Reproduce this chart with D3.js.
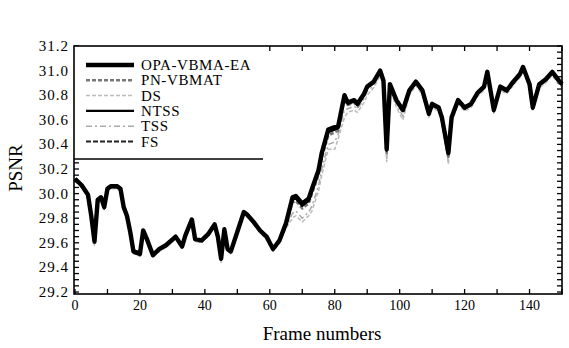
<!DOCTYPE html>
<html>
<head>
<meta charset="utf-8">
<script src="https://cdn.jsdelivr.net/npm/d3@7"></script>
<style>
  body { margin: 0; background: #fff; }
  svg text { font-family: "Liberation Serif", "DejaVu Serif", serif; fill: #000; }
</style>
</head>
<body>
<div id="chart"></div>
<script>
// frame numbers sampled from the curves
var frames = [0,2,4,5,6,7,8,9,10,11,13,14,15,16,17,18,20,21,22,24,26,28,31,33,34,36,37,39,41,43,44,45,46,47,48,50,52,53,55,57,59,61,63,65,67,68,70,72,73,75,76,78,80,81,83,84,86,87,89,90,92,94,95,96,97,99,101,103,105,107,109,110,112,113,115,116,118,120,122,124,126,127,129,131,133,135,137,138,140,141,143,145,147,149,150];

var opaValues = [30.12,30.07,29.99,29.82,29.61,29.95,29.97,29.89,30.04,30.06,
  30.06,30.04,29.89,29.82,29.69,29.53,29.51,29.70,29.64,29.50,
  29.55,29.58,29.65,29.57,29.66,29.79,29.63,29.62,29.67,29.75,
  29.65,29.47,29.71,29.55,29.53,29.69,29.85,29.83,29.77,29.70,
  29.65,29.55,29.62,29.76,29.97,29.98,29.92,29.96,30.04,30.19,
  30.33,30.52,30.54,30.54,30.80,30.74,30.76,30.73,30.81,30.87,
  30.91,31.00,30.92,30.36,30.89,30.76,30.68,30.84,30.91,30.84,
  30.65,30.73,30.70,30.62,30.33,30.62,30.76,30.70,30.73,30.82,
  30.87,30.99,30.68,30.87,30.84,30.91,30.97,31.03,30.89,30.70,
  30.89,30.93,30.99,30.92,30.89];

var pnValues = [30.11,30.06,29.98,29.81,29.60,29.93,29.96,29.88,30.03,30.05,
  30.05,30.03,29.88,29.81,29.68,29.52,29.50,29.69,29.63,29.49,
  29.54,29.57,29.64,29.56,29.65,29.78,29.62,29.61,29.66,29.74,
  29.64,29.46,29.70,29.54,29.52,29.68,29.84,29.82,29.76,29.69,
  29.64,29.54,29.61,29.74,29.93,29.94,29.88,29.92,30.00,30.15,
  30.29,30.47,30.50,30.51,30.77,30.72,30.74,30.71,30.80,30.86,
  30.90,30.99,30.91,30.33,30.88,30.75,30.66,30.83,30.90,30.83,
  30.64,30.72,30.69,30.61,30.30,30.61,30.75,30.69,30.72,30.81,
  30.86,30.98,30.67,30.86,30.83,30.90,30.96,31.02,30.88,30.69,
  30.88,30.92,30.98,30.91,30.88];

var dsValues = [30.10,30.05,29.97,29.80,29.58,29.92,29.95,29.87,30.02,30.04,
  30.04,30.02,29.87,29.80,29.67,29.51,29.49,29.68,29.62,29.48,
  29.53,29.56,29.63,29.55,29.64,29.77,29.61,29.60,29.65,29.73,
  29.63,29.44,29.69,29.53,29.51,29.67,29.83,29.81,29.75,29.68,
  29.63,29.53,29.60,29.72,29.80,29.82,29.77,29.82,29.86,30.02,
  30.15,30.36,30.36,30.44,30.62,30.66,30.68,30.66,30.74,30.80,
  30.86,30.96,30.88,30.26,30.85,30.70,30.60,30.80,30.88,30.80,
  30.62,30.70,30.67,30.58,30.24,30.58,30.73,30.67,30.70,30.79,
  30.84,30.96,30.65,30.84,30.81,30.88,30.94,31.00,30.86,30.67,
  30.86,30.90,30.96,30.89,30.86];

var ntssValues = [30.12,30.07,29.99,29.83,29.62,29.95,29.97,29.89,30.04,30.06,
  30.06,30.04,29.90,29.82,29.70,29.54,29.52,29.70,29.64,29.51,
  29.55,29.58,29.65,29.57,29.66,29.79,29.63,29.62,29.67,29.75,
  29.65,29.48,29.71,29.55,29.53,29.69,29.85,29.83,29.77,29.70,
  29.65,29.56,29.62,29.75,29.95,29.96,29.90,29.94,30.02,30.17,
  30.31,30.50,30.52,30.53,30.79,30.73,30.75,30.72,30.80,30.86,
  30.90,30.99,30.91,30.35,30.88,30.75,30.67,30.83,30.90,30.83,
  30.64,30.72,30.69,30.61,30.32,30.61,30.75,30.69,30.72,30.81,
  30.86,30.98,30.67,30.86,30.83,30.90,30.96,31.02,30.88,30.69,
  30.88,30.92,30.98,30.91,30.88];

var tssValues = [30.11,30.06,29.98,29.81,29.59,29.93,29.96,29.88,30.03,30.05,
  30.05,30.03,29.88,29.81,29.68,29.52,29.50,29.69,29.63,29.49,
  29.54,29.57,29.64,29.56,29.65,29.78,29.62,29.61,29.66,29.74,
  29.64,29.45,29.70,29.54,29.52,29.68,29.84,29.82,29.76,29.69,
  29.64,29.54,29.61,29.73,29.84,29.86,29.80,29.85,29.90,30.06,
  30.20,30.40,30.42,30.48,30.68,30.69,30.71,30.69,30.77,30.83,
  30.88,30.97,30.89,30.28,30.86,30.72,30.63,30.81,30.89,30.81,
  30.63,30.71,30.68,30.59,30.26,30.59,30.74,30.68,30.71,30.80,
  30.85,30.97,30.66,30.85,30.82,30.89,30.95,31.01,30.87,30.68,
  30.87,30.91,30.97,30.90,30.87];

var fsValues = [30.12,30.07,29.99,29.82,29.61,29.95,29.97,29.89,30.04,30.06,
  30.06,30.04,29.89,29.82,29.69,29.53,29.51,29.70,29.64,29.50,
  29.55,29.58,29.65,29.57,29.66,29.79,29.63,29.62,29.67,29.75,
  29.65,29.47,29.71,29.55,29.53,29.69,29.85,29.83,29.77,29.70,
  29.65,29.55,29.62,29.76,29.97,29.98,29.92,29.96,30.04,30.19,
  30.33,30.52,30.54,30.54,30.80,30.74,30.76,30.73,30.81,30.87,
  30.91,31.00,30.92,30.36,30.89,30.76,30.68,30.84,30.91,30.84,
  30.65,30.73,30.70,30.62,30.33,30.62,30.76,30.70,30.73,30.82,
  30.87,30.99,30.68,30.87,30.84,30.91,30.97,31.03,30.89,30.70,
  30.89,30.93,30.99,30.92,30.89];

var seriesNames = ["OPA-VBMA-EA", "PN-VBMAT", "DS", "NTSS", "TSS", "FS"];
var xTickLabels = [0, 20, 40, 60, 80, 100, 120, 140];
var yTickLabels = ["29.2","29.4","29.6","29.8","30.0","30.2","30.4","30.6","30.8","31.0","31.2"];

var styles = {
  "OPA-VBMA-EA": {color: "#000", width: 4.4, dash: null},
  "PN-VBMAT":    {color: "#777", width: 2.6, dash: "4,2"},
  "DS":          {color: "#bbb", width: 1.5, dash: "4,2"},
  "NTSS":        {color: "#000", width: 2.2, dash: null},
  "TSS":         {color: "#aaa", width: 1.5, dash: "6,3,2,3"},
  "FS":          {color: "#222", width: 2.2, dash: "5,2"}
};

var valuesByName = {
  "OPA-VBMA-EA": opaValues, "PN-VBMAT": pnValues, "DS": dsValues,
  "NTSS": ntssValues, "TSS": tssValues, "FS": fsValues
};

var W = 569, H = 348;
var box = {left: 74, right: 562, top: 46, bottom: 294};

var svg = d3.select("#chart").append("svg")
    .attr("width", W)
    .attr("height", H);

var x = d3.scaleLinear().domain([0, 150]).range([75, box.right]);
var y = d3.scaleLinear().domain([29.2, 31.2]).range([292, box.top]);

// ticks every 10 frames, labels every 20
var xMinor = d3.range(0, 151, 10);
var yMinor = d3.range(29.2, 31.21, 0.05);

var axisG = svg.append("g");

axisG.selectAll(".xt").data(xMinor).enter().append("line")
    .attr("x1", function(d) { return x(d); }).attr("x2", function(d) { return x(d); })
    .attr("y1", box.bottom).attr("y2", box.bottom - 5)
    .attr("stroke", "#000").attr("stroke-width", 1.3);
axisG.selectAll(".xtt").data(xMinor).enter().append("line")
    .attr("x1", function(d) { return x(d); }).attr("x2", function(d) { return x(d); })
    .attr("y1", box.top).attr("y2", box.top + 5)
    .attr("stroke", "#000").attr("stroke-width", 1.3);
axisG.selectAll(".yt").data(yMinor).enter().append("line")
    .attr("x1", box.left).attr("x2", box.left + 5)
    .attr("y1", function(d) { return y(d); }).attr("y2", function(d) { return y(d); })
    .attr("stroke", "#000").attr("stroke-width", 1.3);
axisG.selectAll(".ytr").data(yMinor).enter().append("line")
    .attr("x1", box.right).attr("x2", box.right - 5)
    .attr("y1", function(d) { return y(d); }).attr("y2", function(d) { return y(d); })
    .attr("stroke", "#000").attr("stroke-width", 1.3);

axisG.selectAll(".xl").data(xTickLabels).enter().append("text")
    .attr("x", function(d) { return x(d); })
    .attr("y", 310)
    .attr("text-anchor", "middle")
    .attr("font-size", 14)
    .text(function(d) { return d; });

axisG.selectAll(".yl").data(yTickLabels).enter().append("text")
    .attr("x", 69)
    .attr("y", function(d) { return y(+d) + 5; })
    .attr("text-anchor", "end")
    .attr("font-size", 15)
    .attr("letter-spacing", 1)
    .text(function(d) { return d; });

svg.append("text")
    .attr("x", 322).attr("y", 340)
    .attr("text-anchor", "middle")
    .attr("font-size", 19)
    .text("Frame numbers");

svg.append("text")
    .attr("transform", "translate(22,168) rotate(-90)")
    .attr("text-anchor", "middle")
    .attr("font-size", 19)
    .text("PSNR");

// curves
var line = d3.line()
    .x(function(d) { return x(d[0]); })
    .y(function(d) { return y(d[1]); });

var drawOrder = ["TSS", "DS", "PN-VBMAT", "FS", "NTSS", "OPA-VBMA-EA"];
drawOrder.forEach(function(name) {
  var st = styles[name];
  var pts = frames.map(function(f, i) { return [f, valuesByName[name][i]]; });
  svg.append("path")
      .datum(pts)
      .attr("fill", "none")
      .attr("stroke", st.color)
      .attr("stroke-width", st.width)
      .attr("stroke-dasharray", st.dash)
      .attr("stroke-linejoin", "round")
      .attr("d", line);
});

// legend
var legend = svg.append("g");
legend.append("rect")
    .attr("x", box.left).attr("y", box.top)
    .attr("width", 263 - box.left).attr("height", 159 - box.top)
    .attr("fill", "#fff");
legend.append("line")
    .attr("x1", box.left).attr("x2", 263)
    .attr("y1", 159).attr("y2", 159)
    .attr("stroke", "#000").attr("stroke-width", 1.6);

seriesNames.forEach(function(name, i) {
  var st = styles[name];
  var ly = 65 + i * 15.3;
  legend.append("line")
      .attr("x1", 86).attr("x2", 134)
      .attr("y1", ly).attr("y2", ly)
      .attr("stroke", st.color)
      .attr("stroke-width", st.width)
      .attr("stroke-dasharray", st.dash);
  legend.append("text")
      .attr("x", 141).attr("y", ly + 5)
      .attr("font-size", 15)
      .attr("letter-spacing", 0.6)
      .text(name);
});

// frame
svg.append("rect")
    .attr("x", box.left).attr("y", box.top)
    .attr("width", box.right - box.left).attr("height", box.bottom - box.top)
    .attr("fill", "none")
    .attr("stroke", "#000")
    .attr("stroke-width", 1.6);
</script>
</body>
</html>
